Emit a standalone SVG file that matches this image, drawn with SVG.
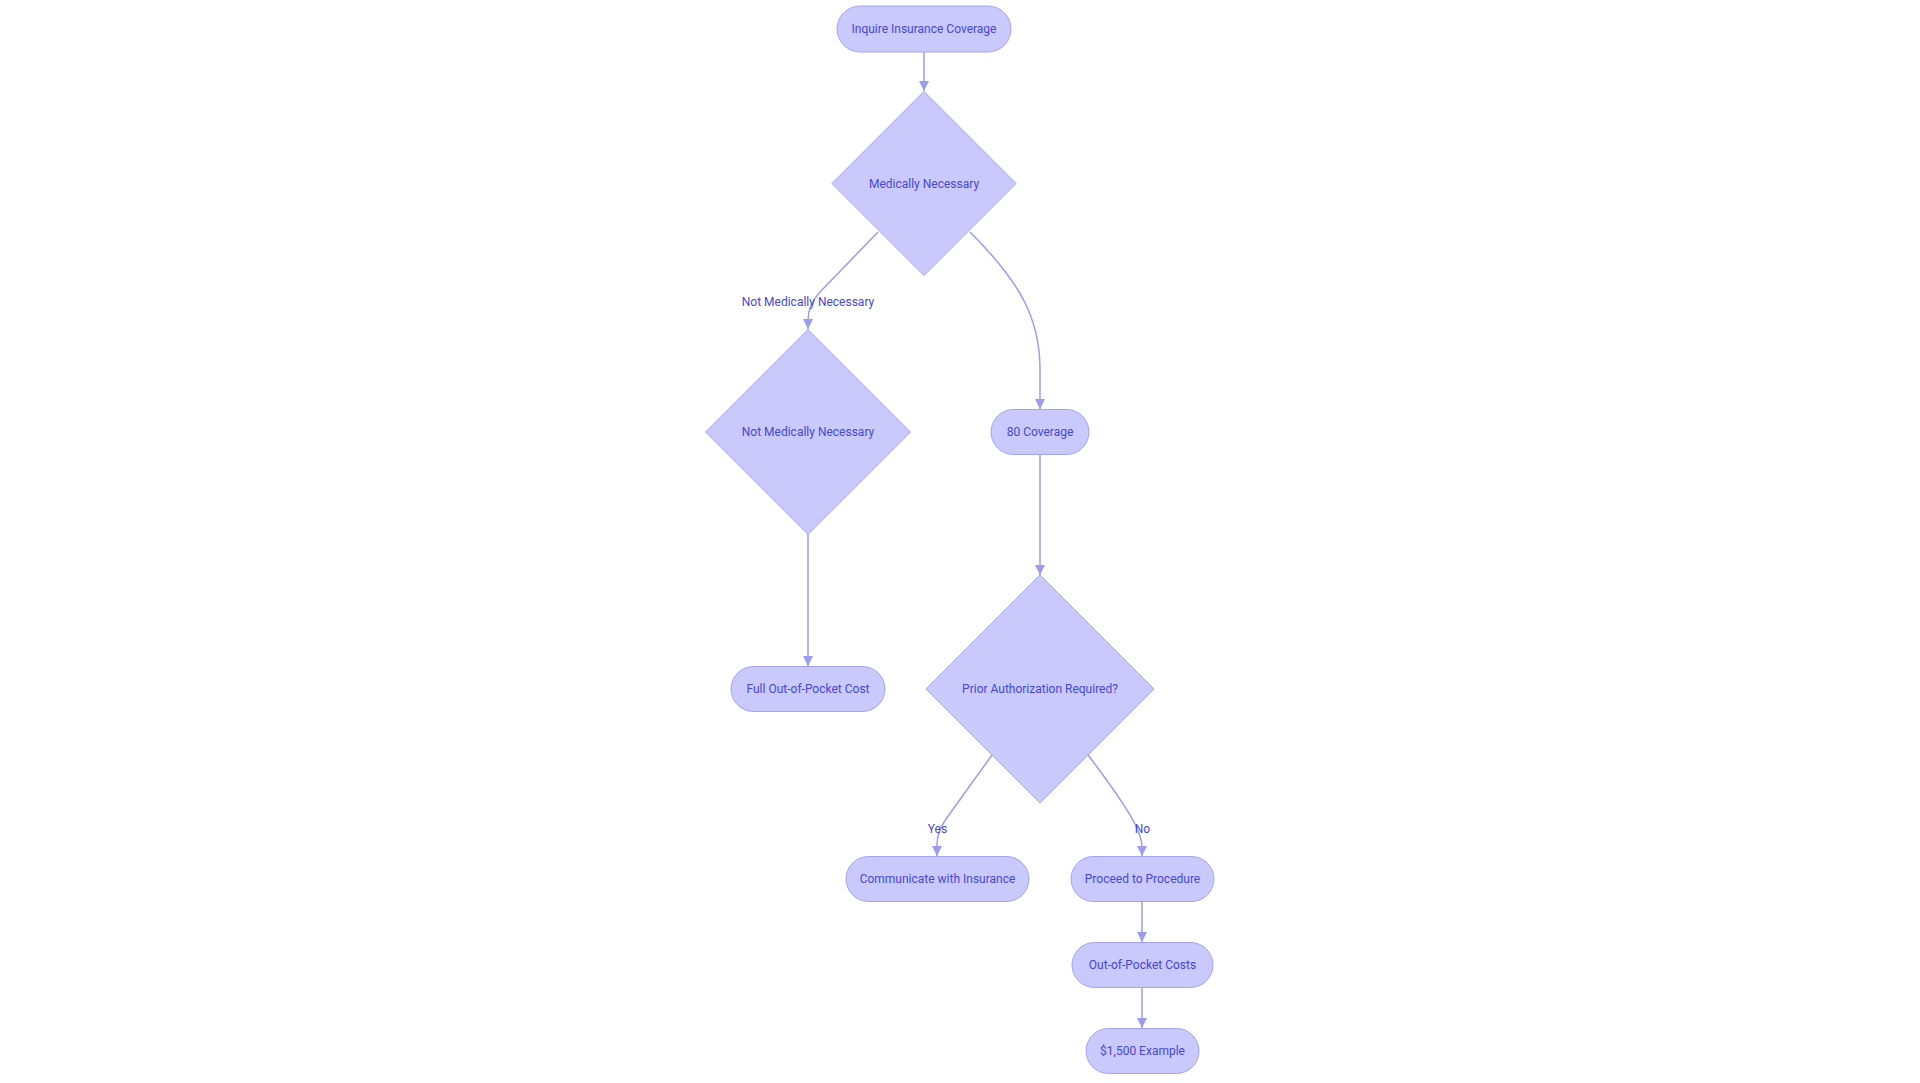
<svg xmlns="http://www.w3.org/2000/svg" width="1920" height="1083" viewBox="0 0 1920 1083">
<defs>
<style>
.node rect, .node polygon { fill: #c9c9fc; stroke: #a3a3f2; stroke-width: 1; }
.node text, .elabel { font-family: Roboto, Inter, "Open Sans", sans-serif; font-size: 12px; font-weight: 400; fill: #4747d8; text-anchor: middle; }
.edge { fill: none; stroke: #9b9bf0; stroke-width: 1.5; marker-end: url(#arrow); }
</style>
<marker id="arrow" markerUnits="userSpaceOnUse" viewBox="0 0 10 10" refX="10" refY="5" markerWidth="10" markerHeight="10" orient="auto">
<path d="M0,0 L10,5 L0,10 Z" fill="#9b9bf0"/>
</marker>
</defs>
<rect width="1920" height="1083" fill="#ffffff"/>
<g id="connectors">
<path class="edge" d="M924,52 L924,91"/>
<path class="edge" d="M878,232 L820,292 Q808,305 808,320 L808,329"/>
<path class="edge" d="M970,232 C1022,284 1040,320 1040,370 L1040,409"/>
<path class="edge" d="M808,533 L808,666"/>
<path class="edge" d="M1040,454 L1040,575"/>
<path class="edge" d="M992,755 L946,819 Q937,832 937,845 L937,856"/>
<path class="edge" d="M1088,755 Q1126,805 1136,826 Q1142,840 1142,846 L1142,856"/>
<path class="edge" d="M1142,902 L1142,942"/>
<path class="edge" d="M1142,987 L1142,1028"/>
<text class="elabel" x="808" y="306">Not Medically Necessary</text>
<text class="elabel" x="937.5" y="833">Yes</text>
<text class="elabel" x="1142.5" y="833">No</text>
</g>
<g id="n1" class="node">
<rect x="837" y="6" width="174" height="46" rx="23" ry="23"/>
<text x="924" y="33">Inquire Insurance Coverage</text>
</g>
<g id="n2" class="node">
<polygon points="924,91.5 1016,183.5 924,275.5 832,183.5"/>
<text x="924" y="187.5">Medically Necessary</text>
</g>
<g id="n3" class="node">
<polygon points="808,329.5 910.5,432 808,534.5 705.5,432"/>
<text x="808" y="436">Not Medically Necessary</text>
</g>
<g id="n4" class="node">
<rect x="991" y="409.5" width="98" height="45" rx="22.5" ry="22.5"/>
<text x="1040" y="436">80 Coverage</text>
</g>
<g id="n5" class="node">
<rect x="731" y="666.5" width="154" height="45" rx="22.5" ry="22.5"/>
<text x="808" y="693">Full Out-of-Pocket Cost</text>
</g>
<g id="n6" class="node">
<polygon points="1040,575 1154,689 1040,803 926,689"/>
<text x="1040" y="693">Prior Authorization Required?</text>
</g>
<g id="n7" class="node">
<rect x="846" y="856.5" width="183" height="45" rx="22.5" ry="22.5"/>
<text x="937.5" y="883">Communicate with Insurance</text>
</g>
<g id="n8" class="node">
<rect x="1071" y="856.5" width="143" height="45" rx="22.5" ry="22.5"/>
<text x="1142.5" y="883">Proceed to Procedure</text>
</g>
<g id="n9" class="node">
<rect x="1072" y="942.5" width="141" height="45" rx="22.5" ry="22.5"/>
<text x="1142.5" y="969">Out-of-Pocket Costs</text>
</g>
<g id="n10" class="node">
<rect x="1086" y="1028.5" width="113" height="45" rx="22.5" ry="22.5"/>
<text x="1142.5" y="1055">$1,500 Example</text>
</g>
</svg>
